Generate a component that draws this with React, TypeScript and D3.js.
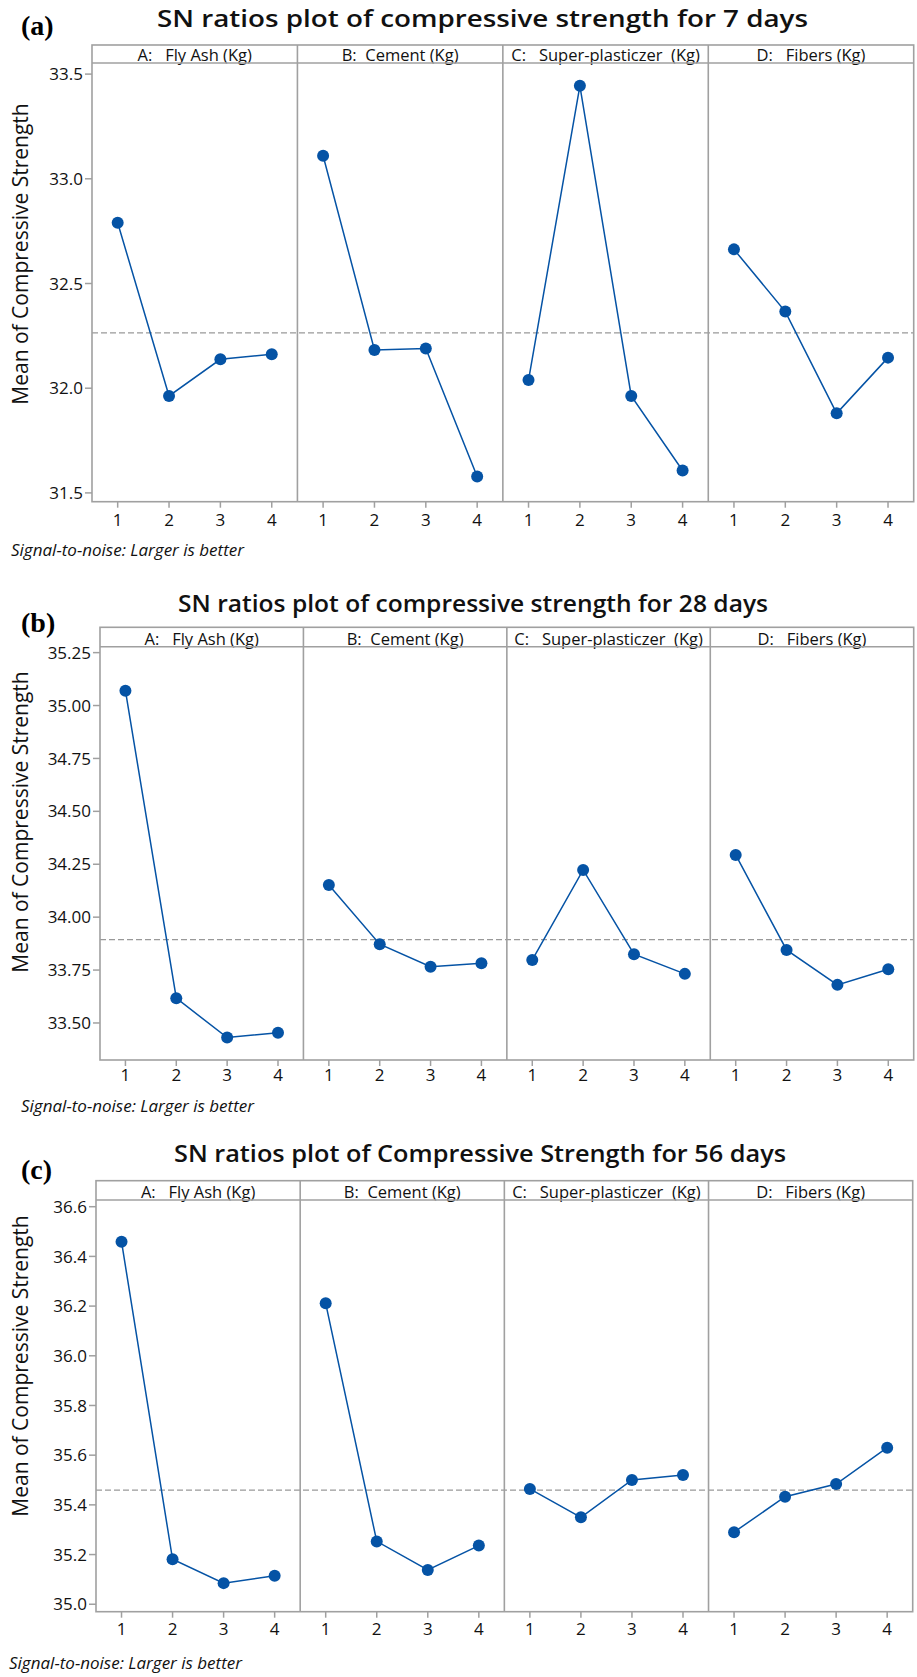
import React from "react";
import * as d3 from "d3";

// ---------- data ----------
const levels = ["1", "2", "3", "4"];
const factorLabels = ["A:   Fly Ash (Kg)", "B:  Cement (Kg)", "C:   Super-plasticzer  (Kg)", "D:   Fibers (Kg)"];

// 7 days
const sn7FlyAsh = [32.79, 31.963, 32.138, 32.162];
const sn7Cement = [33.11, 32.183, 32.19, 31.578];
const sn7Super = [32.039, 33.444, 31.963, 31.607];
const sn7Fibers = [32.663, 32.366, 31.88, 32.146];
const ticks7 = [31.5, 32.0, 32.5, 33.0, 33.5];

// 28 days
const sn28FlyAsh = [35.07, 33.617, 33.431, 33.454];
const sn28Cement = [34.152, 33.872, 33.766, 33.782];
const sn28Super = [33.798, 34.223, 33.825, 33.732];
const sn28Fibers = [34.294, 33.845, 33.68, 33.754];
const ticks28 = [33.5, 33.75, 34.0, 34.25, 34.5, 34.75, 35.0, 35.25];

// 56 days
const sn56FlyAsh = [36.459, 35.181, 35.085, 35.115];
const sn56Cement = [36.211, 35.253, 35.138, 35.236];
const sn56Super = [35.464, 35.35, 35.5, 35.52];
const sn56Fibers = [35.29, 35.433, 35.484, 35.63];
const ticks56 = [35.0, 35.2, 35.4, 35.6, 35.8, 36.0, 36.2, 36.4, 36.6];

const footnote = "Signal-to-noise: Larger is better";
const yLabel = "Mean of Compressive Strength";

// ---------- layout ----------
const panels = [
  {
    tag: "(a)", tagY: 35,
    title: "SN ratios plot of compressive strength for 7 days", titleX: 157, titleW: 651, titleY: 27,
    series: [sn7FlyAsh, sn7Cement, sn7Super, sn7Fibers], ticks: ticks7, fmt: ".1f",
    domain: [31.458, 33.553],
    left: 92, right: 913.7, headTop: 45, top: 63, bottom: 501.7,
    xLabY: 526, noteX: 11, noteY: 556, yLabC: 254,
  },
  {
    tag: "(b)", tagY: 632,
    title: "SN ratios plot of compressive strength for 28 days", titleX: 178, titleW: 590, titleY: 612,
    series: [sn28FlyAsh, sn28Cement, sn28Super, sn28Fibers], ticks: ticks28, fmt: ".2f",
    domain: [33.325, 35.278],
    left: 100, right: 913.7, headTop: 627.3, top: 646.7, bottom: 1060,
    xLabY: 1081, noteX: 21, noteY: 1112, yLabC: 822,
  },
  {
    tag: "(c)", tagY: 1179,
    title: "SN ratios plot of Compressive Strength for 56 days", titleX: 174, titleW: 612, titleY: 1162,
    series: [sn56FlyAsh, sn56Cement, sn56Super, sn56Fibers], ticks: ticks56, fmt: ".1f",
    domain: [34.97, 36.627],
    left: 96, right: 912.7, headTop: 1180.7, top: 1200, bottom: 1611.7,
    xLabY: 1635, noteX: 9, noteY: 1669, yLabC: 1366,
  },
];

const FONT = "'Open Sans', 'Noto Sans', sans-serif";
const FRAME = "#a0a0a0";
const BLUE = "#0553a5";

function Panel({ p }: { p: any }) {
  const y = d3.scaleLinear().domain(p.domain).range([p.bottom, p.top]);
  const pw = (p.right - p.left) / 4;
  const all = p.series.flat();
  const grand = d3.mean(all) as number;
  const f = d3.format(p.fmt);
  return (
    <g>
      <text x={21} y={p.tagY} fontFamily="'Liberation Serif', 'Times New Roman', serif" fontWeight="bold" fontSize={28} fill="#000">{p.tag}</text>
      <text x={p.titleX} y={p.titleY} textLength={p.titleW} lengthAdjust="spacingAndGlyphs" fontFamily={FONT} fontWeight={600} fontSize={24} fill="#111">{p.title}</text>
      <text transform={`translate(28,${p.yLabC}) rotate(-90)`} textAnchor="middle" fontFamily={FONT} fontSize={21} fill="#111">{yLabel}</text>
      {/* y ticks */}
      {p.ticks.map((t: number) => (
        <g key={t}>
          <line x1={p.left - 7} x2={p.left} y1={y(t)} y2={y(t)} stroke={FRAME} strokeWidth={1.5} />
          <text x={p.left - 9} y={y(t)} dy="0.36em" textAnchor="end" fontFamily={FONT} fontSize={17} fill="#111">{f(t)}</text>
        </g>
      ))}
      {/* mean line */}
      <line x1={p.left} x2={p.right} y1={y(grand)} y2={y(grand)} stroke="#999" strokeWidth={1.3} strokeDasharray="6,3" />
      {p.series.map((vals: number[], i: number) => {
        const x0 = p.left + i * pw;
        const x = d3.scalePoint().domain(levels).range([x0, x0 + pw]).padding(0.5);
        const line = d3.line<number>().x((_, j) => x(levels[j]) as number).y((v) => y(v));
        return (
          <g key={i}>
            <text x={x0 + pw / 2} y={p.top - 2} textAnchor="middle" fontFamily={FONT} fontSize={16.5} fill="#111" style={{ whiteSpace: "pre" }}>{factorLabels[i]}</text>
            {levels.map((l) => (
              <g key={l}>
                <line x1={x(l)} x2={x(l)} y1={p.bottom} y2={p.bottom + 6} stroke={FRAME} strokeWidth={1.5} />
                <text x={x(l)} y={p.xLabY} textAnchor="middle" fontFamily={FONT} fontSize={17} fill="#111">{l}</text>
              </g>
            ))}
            <path d={line(vals) as string} fill="none" stroke={BLUE} strokeWidth={1.5} />
            {vals.map((v, j) => (
              <circle key={j} cx={x(levels[j])} cy={y(v)} r={6} fill={BLUE} />
            ))}
            {i > 0 && <line x1={x0} x2={x0} y1={p.headTop} y2={p.bottom} stroke={FRAME} strokeWidth={1.6} />}
          </g>
        );
      })}
      {/* frame */}
      <rect x={p.left} y={p.headTop} width={p.right - p.left} height={p.bottom - p.headTop} fill="none" stroke={FRAME} strokeWidth={1.6} />
      <line x1={p.left} x2={p.right} y1={p.top} y2={p.top} stroke={FRAME} strokeWidth={1.6} />
      <text x={p.noteX} y={p.noteY} fontFamily={FONT} fontStyle="italic" fontSize={17} fill="#111">{footnote}</text>
    </g>
  );
}

export default function App() {
  return (
    <svg width={917} height={1677} style={{ position: "absolute", left: 0, top: 0, background: "#fff" }}>
      <rect width={917} height={1677} fill="#fff" />
      {panels.map((p, i) => (
        <Panel key={i} p={p} />
      ))}
    </svg>
  );
}
